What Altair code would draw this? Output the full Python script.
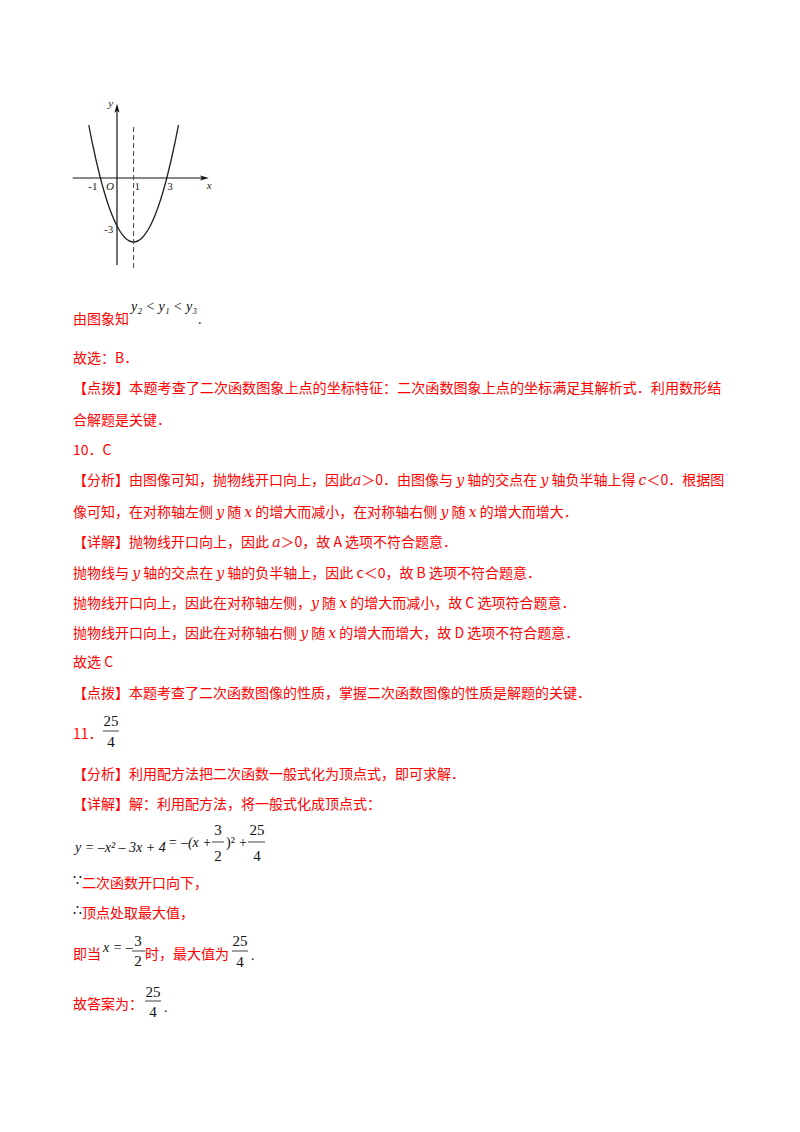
import altair as alt
import pandas as pd

# math italic letters (used inside the red sentences)
Y = "\U0001D466"
X = "\U0001D465"
A = "\U0001D44E"
C = "\U0001D450"

# ---------------- graph data ----------------
curve_x = [-1.7, -1.5, -1.0, -0.5, 0.0, 0.5, 1.0, 1.5, 2.0, 2.5, 3.0, 3.5, 3.7]
curve_y = [3.3, 2.25, 0.0, -1.75, -3.0, -3.75, -4.0, -3.75, -3.0, -1.75, 0.0, 2.25, 3.3]
axis_of_symmetry = 1

num_labels = ["-1", "1", "3", "-3"]
num_label_x = [-1.45, 1.22, 3.19, -0.5]
num_label_y = [-0.55, -0.55, -0.55, -3.25]
ital_labels = ["O", "x", "y"]
ital_label_x = [-0.42, 5.56, -0.38]
ital_label_y = [-0.55, -0.5, 4.6]

# ---------------- page text ----------------
red_lines = [
    "由图象知",
    "故选：B．",
    "【点拨】本题考查了二次函数图象上点的坐标特征：二次函数图象上点的坐标满足其解析式．利用数形结",
    "合解题是关键．",
    "10．C",
    f"【分析】由图像可知，抛物线开口向上，因此{A}＞0．由图像与 {Y} 轴的交点在 {Y} 轴负半轴上得 {C}＜0．根据图",
    f"像可知，在对称轴左侧 {Y} 随 {X} 的增大而减小，在对称轴右侧 {Y} 随 {X} 的增大而增大．",
    f"【详解】抛物线开口向上，因此 {A}＞0，故 A 选项不符合题意．",
    f"抛物线与 {Y} 轴的交点在 {Y} 轴的负半轴上，因此 c＜0，故 B 选项不符合题意．",
    f"抛物线开口向上，因此在对称轴左侧，{Y} 随 {X} 的增大而减小，故 C 选项符合题意．",
    f"抛物线开口向上，因此在对称轴右侧 {Y} 随 {X} 的增大而增大，故 D 选项不符合题意．",
    "故选 C",
    "【点拨】本题考查了二次函数图像的性质，掌握二次函数图像的性质是解题的关键．",
    "11．",
    "【分析】利用配方法把二次函数一般式化为顶点式，即可求解．",
    "【详解】解：利用配方法，将一般式化成顶点式：",
    "二次函数开口向下，",
    "顶点处取最大值，",
    "即当",
    "时，最大值为",
    "故答案为：",
]
red_line_y = [320, 359, 389, 421, 451, 481, 513, 543, 574, 604, 634, 663, 694,
              735, 775, 805, 884, 914, 955, 955, 1005]
red_line_x = [73] * 16 + [82, 82, 73, 145, 73]
red_line_fs = [14, 14, 14.1] + [14] * 18

math_ital = ["y₂ < y₁ < y₃",
             "y = –x² – 3x + 4",
             "= –(x +",
             "x = –"]
math_ital_x = [131, 75, 168, 103]
math_ital_y = [307, 848, 843, 948]

math_up = [")²", "+", "∵", "∴", ".", ".", "."]
math_up_x = [226, 239, 73, 73, 198, 251, 164]
math_up_y = [843, 843, 881, 911, 320, 956, 1008]

frac_num = ["25", "4", "3", "2", "25", "4", "3", "2", "25", "4", "25", "4"]
frac_x = [111, 111, 218, 218, 257, 257, 138, 138, 240, 240, 153, 153]
frac_y = [721, 742, 830, 856, 830, 856, 941, 961, 941, 962, 992, 1012]

bar_x1 = [103, 212, 248, 132, 232, 145]
bar_x2 = [119, 224, 265, 145, 248, 161]
bar_y = [731, 842, 842, 951, 951, 1001]

# ---------------- graph chart ----------------
xs = alt.Scale(domain=[-6.566, 40.663], nice=False, zero=False)
ys = alt.Scale(domain=[-7.0, 10.625], nice=False, zero=False)

curve_df = pd.DataFrame({"x": curve_x, "y": curve_y})
curve = alt.Chart(curve_df).mark_line(
    interpolate="monotone", color="#222", strokeWidth=1.3
).encode(x=alt.X("x:Q", scale=xs, axis=None), y=alt.Y("y:Q", scale=ys, axis=None))

axes_df = pd.DataFrame({"x": [-2.67, 0.0], "x2": [5.3, 0.0], "y": [0.0, -5.44], "y2": [0.0, 4.45]})
axes = alt.Chart(axes_df).mark_rule(color="#111", strokeWidth=1.2).encode(
    x=alt.X("x:Q", scale=xs, axis=None), x2="x2:Q",
    y=alt.Y("y:Q", scale=ys, axis=None), y2="y2:Q")

arrow_r = alt.Chart(pd.DataFrame({"x": [5.25], "y": [0.0]})).mark_point(
    shape="M1,0L-0.9,0.55L-0.45,0L-0.9,-0.55Z", filled=True, color="#111", size=90, opacity=1
).encode(x=alt.X("x:Q", scale=xs, axis=None), y=alt.Y("y:Q", scale=ys, axis=None))
arrow_u = alt.Chart(pd.DataFrame({"x": [0.0], "y": [4.35]})).mark_point(
    shape="M0,-1L0.55,0.9L0,0.45L-0.55,0.9Z", filled=True, color="#111", size=90, opacity=1
).encode(x=alt.X("x:Q", scale=xs, axis=None), y=alt.Y("y:Q", scale=ys, axis=None))

dash_df = pd.DataFrame({"x": [axis_of_symmetry], "y": [-5.625], "y2": [3.31]})
dash = alt.Chart(dash_df).mark_rule(color="#444", strokeWidth=1, strokeDash=[5, 3]).encode(
    x=alt.X("x:Q", scale=xs, axis=None), y=alt.Y("y:Q", scale=ys, axis=None), y2="y2:Q")

num_df = pd.DataFrame({"t": num_labels, "x": num_label_x, "y": num_label_y})
nums = alt.Chart(num_df).mark_text(font="Liberation Serif", fontSize=11, color="#222",
                                   align="center", baseline="middle").encode(
    x=alt.X("x:Q", scale=xs, axis=None), y=alt.Y("y:Q", scale=ys, axis=None), text="t:N")
ital_df = pd.DataFrame({"t": ital_labels, "x": ital_label_x, "y": ital_label_y})
itals = alt.Chart(ital_df).mark_text(font="Liberation Serif", fontSize=11, fontStyle="italic",
                                     color="#222", align="center", baseline="middle").encode(
    x=alt.X("x:Q", scale=xs, axis=None), y=alt.Y("y:Q", scale=ys, axis=None), text="t:N")

graph = alt.layer(curve, axes, arrow_r, arrow_u, dash, nums, itals).properties(width=784, height=282)

# ---------------- text page chart ----------------
px = alt.Scale(domain=[8, 792], nice=False, zero=False)
py = alt.Scale(domain=[290, 1124], nice=False, zero=False, reverse=True)

red_df = pd.DataFrame({"t": red_lines, "x": red_line_x, "y": red_line_y, "fs": red_line_fs})
red_text = alt.Chart(red_df).mark_text(
    font="Noto Sans CJK SC, DejaVu Serif", color="#FF0000", align="left", baseline="middle"
).encode(x=alt.X("x:Q", scale=px, axis=None), y=alt.Y("y:Q", scale=py, axis=None),
         text="t:N", size=alt.Size("fs:Q", scale=None, legend=None))

mi_df = pd.DataFrame({"t": math_ital, "x": math_ital_x, "y": math_ital_y})
mi_text = alt.Chart(mi_df).mark_text(
    font="Liberation Serif", fontStyle="italic", fontSize=14, color="#111",
    align="left", baseline="middle"
).encode(x=alt.X("x:Q", scale=px, axis=None), y=alt.Y("y:Q", scale=py, axis=None), text="t:N")

mu_df = pd.DataFrame({"t": math_up, "x": math_up_x, "y": math_up_y})
mu_text = alt.Chart(mu_df).mark_text(
    font="Liberation Serif, DejaVu Serif", fontSize=14, color="#111", align="left", baseline="middle"
).encode(x=alt.X("x:Q", scale=px, axis=None), y=alt.Y("y:Q", scale=py, axis=None), text="t:N")

fr_df = pd.DataFrame({"t": frac_num, "x": frac_x, "y": frac_y})
fr_text = alt.Chart(fr_df).mark_text(
    font="Liberation Serif", fontSize=15, color="#111", align="center", baseline="middle"
).encode(x=alt.X("x:Q", scale=px, axis=None), y=alt.Y("y:Q", scale=py, axis=None), text="t:N")

bar_df = pd.DataFrame({"x": bar_x1, "x2": bar_x2, "y": bar_y})
bars = alt.Chart(bar_df).mark_rule(color="#111", strokeWidth=0.8).encode(
    x=alt.X("x:Q", scale=px, axis=None), x2="x2:Q", y=alt.Y("y:Q", scale=py, axis=None))

page = alt.layer(red_text, mi_text, mu_text, fr_text, bars).properties(width=784, height=834)

chart = alt.vconcat(graph, page, spacing=0).properties(padding=0).configure_view(stroke=None)

chart.save("out.html", embed_options={"renderer": "svg", "actions": False})
